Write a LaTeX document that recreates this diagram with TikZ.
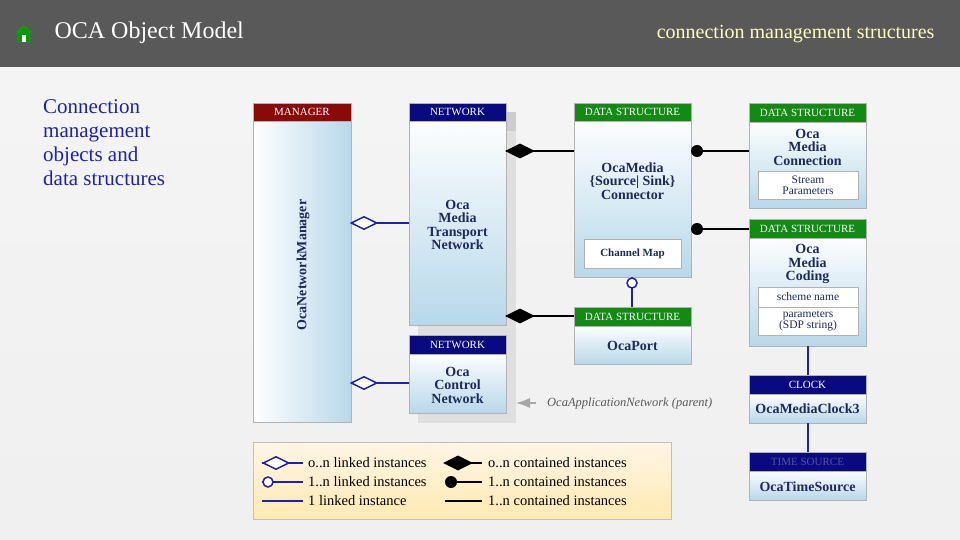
\documentclass[tikz,border=0pt]{standalone}
\usepackage{fontspec}
\setmainfont{Liberation Serif}
\usetikzlibrary{shapes.geometric,arrows.meta}
\definecolor{hdr}{HTML}{595959}
\definecolor{navy}{HTML}{0A0A80}
\definecolor{dred}{HTML}{8A0A0A}
\definecolor{dgreen}{HTML}{138A13}
\definecolor{lblue}{HTML}{B8D8EA}
\definecolor{ttl}{HTML}{1E2A5A}
\definecolor{lnk}{HTML}{2020B0}
\begin{document}
\begin{tikzpicture}[x=1pt,y=-1pt,
  hd/.style={draw=gray!60,text=white,font=\fontsize{11}{11}\selectfont,inner sep=0pt},
  bd/.style={draw=gray!60,top color=white!96!lblue,bottom color=lblue},
  tx/.style={font=\bfseries\fontsize{14}{13.5}\selectfont,text=ttl,align=center},
  sb/.style={draw=gray!60,fill=white,font=\fontsize{11.5}{11}\selectfont,text=ttl,align=center,inner sep=0pt},
  blk/.style={line width=1.8pt,black},
  blu/.style={line width=1.8pt,lnk},
  odia/.style={diamond,draw=lnk,fill=white,line width=1.5pt,minimum width=26pt,minimum height=13pt,inner sep=0pt,aspect=2},
  fdia/.style={diamond,fill=black,minimum width=30pt,minimum height=15pt,inner sep=0pt,aspect=2},
  lg/.style={font=\fontsize{14.5}{14.5}\selectfont,anchor=west,inner sep=0pt}]
\useasboundingbox (0,0) rectangle (960,540);
\fill[top color=white!92!gray,bottom color=white!88!gray] (0,0) rectangle (960,540);
\fill[hdr] (0,0) rectangle (960,67);
% house icon
\draw[green!70!black,fill=green!60!black,line width=0.8pt] (16,33) -- (24,26) -- (32,33) (18,32) rectangle (30,42);
\fill[white] (22,35) rectangle (26,42);
\node[anchor=west,text=white,font=\fontsize{24}{24}\selectfont] (title) at (51,33) {OCA Object Model};
\node[anchor=east,text=yellow!25!white,font=\fontsize{20}{20}\selectfont] (sub) at (938,34) {connection management structures};
\node[anchor=north west,text=lnk,font=\fontsize{21}{24}\selectfont,align=left,inner sep=0pt] (intro) at (43,99) {Connection\\management\\objects and\\data structures};
% shadow behind networks
\fill[gray!25] (418,112) rectangle (516,423);
\fill[gray!40] (506,112) rectangle (516,131);
% manager
\draw[gray!60,left color=white,right color=lblue] (253,121) rectangle (351,422);
\node[hd,fill=dred,minimum width=98pt,minimum height=18pt] (mgrh) at (302,112) {MANAGER};
\node[tx,rotate=90] (mgr) at (303,265) {OcaNetworkManager};
% networks
\draw[bd] (409,121) rectangle (506,325);
\node[hd,fill=navy,minimum width=97pt,minimum height=18pt] (n1h) at (457.5,112) {NETWORK};
\node[tx] (n1) at (457.5,225) {Oca\\Media\\Transport\\Network};
\draw[bd] (409,354) rectangle (506,413);
\node[hd,fill=navy,minimum width=97pt,minimum height=19pt] (n2h) at (457.5,344.5) {NETWORK};
\node[tx] (n2) at (457.5,385) {Oca\\Control\\Network};
\coordinate (pa) at (536,403);
\coordinate (pb) at (516,403);
\draw[gray!70,line width=1.2pt,-{Latex[length=14pt,width=10pt]}] (pa) -- (pb);
\node[anchor=west,text=gray!70!black,font=\itshape\fontsize{12.5}{12.5}\selectfont,inner sep=0pt] (par) at (547,403) {OcaApplicationNetwork (parent)};
% connector
\draw[bd] (574,121) rectangle (691,277);
\node[hd,fill=dgreen,minimum width=117pt,minimum height=18pt] (ch) at (632.5,112) {DATA STRUCTURE};
\node[tx] (con) at (632.5,181) {OcaMedia\\\{Source| Sink\}\\Connector};
\node[sb,minimum width=97pt,minimum height=29pt,font=\bfseries\fontsize{11}{11}\selectfont] (cm) at (632.5,253.5) {Channel Map};
% port
\draw[bd] (574,326) rectangle (691,364);
\node[hd,fill=dgreen,minimum width=117pt,minimum height=19pt] (ph) at (632.5,316.5) {DATA STRUCTURE};
\node[tx] (port) at (632.5,346) {OcaPort};
% media connection
\draw[bd] (749,122) rectangle (866,208);
\node[hd,fill=dgreen,minimum width=117pt,minimum height=19pt] (mch) at (807.5,112.5) {DATA STRUCTURE};
\node[tx] (mc) at (807.5,147) {Oca\\Media\\Connection};
\node[sb,minimum width=100pt,minimum height=28pt] (sp) at (808,185) {Stream\\Parameters};
% media coding
\draw[bd] (749,238) rectangle (866,346);
\node[hd,fill=dgreen,minimum width=117pt,minimum height=19pt] (mdh) at (807.5,228.5) {DATA STRUCTURE};
\node[tx] (md) at (807.5,264) {Oca\\Media\\Coding};
\node[sb,minimum width=100pt,minimum height=20pt] (sn) at (808,297) {scheme name};
\node[sb,minimum width=100pt,minimum height=28pt] (pr) at (808,321) {parameters\\(SDP string)};
% clock
\draw[bd] (749,394) rectangle (866,423);
\node[hd,fill=navy,minimum width=117pt,minimum height=19pt] (clh) at (807.5,384.5) {CLOCK};
\node[tx] (cl) at (807.5,409) {OcaMediaClock3};
% time source
\draw[bd] (749,471) rectangle (866,500);
\node[hd,fill=navy,text=navy!70!white,minimum width=117pt,minimum height=19pt] (tsh) at (807.5,461.5) {TIME SOURCE};
\node[tx] (ts) at (807.5,487) {OcaTimeSource};
% connectors
\coordinate (m1) at (351,223); \coordinate (t1) at (409,223);
\coordinate (m2) at (351,383); \coordinate (t2) at (409,383);
\draw[blu] (m1) -- (t1); \node[odia] (d1) at (364,223) {};
\draw[blu] (m2) -- (t2); \node[odia] (d2) at (364,383) {};
\coordinate (a1) at (506,151); \coordinate (b1) at (574,151);
\coordinate (a2) at (506,316); \coordinate (b2) at (574,316);
\draw[blk] (a1) -- (b1); \node[fdia] (f1) at (520,151) {};
\draw[blk] (a2) -- (b2); \node[fdia] (f2) at (520,316) {};
\coordinate (c1) at (691,151); \coordinate (e1) at (749,151);
\coordinate (c2) at (691,229); \coordinate (e2) at (749,229);
\draw[blk] (c1) -- (e1); \fill (697,151) circle (6pt);
\draw[blk] (c2) -- (e2); \fill (697,229) circle (6pt);
\coordinate (pc) at (632,277); \coordinate (pt) at (632,307);
\draw[blu] (pc) -- (pt); \draw[blu,line width=1.5pt,fill=white] (632,283) circle (5pt);
\coordinate (k1) at (808,346); \coordinate (k2) at (808,375);
\coordinate (k3) at (808,423); \coordinate (k4) at (808,452);
\draw[blu] (k1) -- (k2); \draw[blu] (k3) -- (k4);
% legend
\draw[gray!50,top color=yellow!20!orange!10!white,bottom color=yellow!45!orange!30!white] (253,442) rectangle (671,519);
\coordinate (l1a) at (262,463); \coordinate (l1b) at (303,463);
\draw[blu] (l1a) -- (l1b); \node[odia] (ld1) at (276,463) {};
\node[lg] (lt1) at (308,463) {o..n linked instances};
\coordinate (l2a) at (262,482); \coordinate (l2b) at (303,482);
\draw[blu] (l2a) -- (l2b); \draw[blu,line width=1.5pt,fill=white] (268,482) circle (5pt);
\node[lg] (lt2) at (308,482) {1..n linked instances};
\coordinate (l3a) at (262,501); \coordinate (l3b) at (303,501);
\draw[blu] (l3a) -- (l3b);
\node[lg] (lt3) at (308,501) {1 linked instance};
\coordinate (r1a) at (445,463); \coordinate (r1b) at (482,463);
\draw[blk] (r1a) -- (r1b); \node[fdia] (rd1) at (458,463) {};
\node[lg] (rt1) at (488,463) {o..n contained instances};
\coordinate (r2a) at (445,482); \coordinate (r2b) at (482,482);
\draw[blk] (r2a) -- (r2b); \fill (451,482) circle (6pt);
\node[lg] (rt2) at (488,482) {1..n contained instances};
\coordinate (r3a) at (445,501); \coordinate (r3b) at (482,501);
\draw[blk] (r3a) -- (r3b);
\node[lg] (rt3) at (488,501) {1..n contained instances};
\end{tikzpicture}
\end{document}
